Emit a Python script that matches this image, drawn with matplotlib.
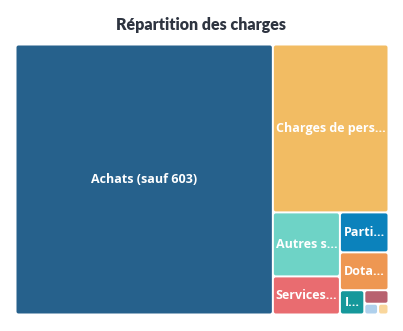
import matplotlib
matplotlib.use("Agg")
import matplotlib.pyplot as plt
from matplotlib.patches import FancyBboxPatch

labels = ["Achats (sauf 603)", "Charges de personnel", "Autres services extérieurs",
          "Services extérieurs", "Participation des salariés", "Dotations aux amortissements",
          "Impôts et taxes", "Charges financières", "Charges exceptionnelles", "Autres charges"]
values = [680, 190, 42, 25, 19, 18, 5.8, 3.2, 1.45, 1.1]
colors = ["#26618C", "#F2BC63", "#6ED3C6", "#E96C70", "#0B82BC", "#EE9752",
          "#15989B", "#B8616F", "#AFD0EC", "#F9D69C"]


def layoutrow(sizes, x, y, dx, dy):
    width = sum(sizes) / dy
    rects = []
    for s in sizes:
        rects.append((x, y, width, s / width))
        y += s / width
    return rects


def layoutcol(sizes, x, y, dx, dy):
    height = sum(sizes) / dx
    rects = []
    for s in sizes:
        rects.append((x, y, s / height, height))
        x += s / height
    return rects


def layout(sizes, x, y, dx, dy):
    if dx >= dy:
        return layoutrow(sizes, x, y, dx, dy)
    return layoutcol(sizes, x, y, dx, dy)


def leftover(sizes, x, y, dx, dy):
    covered = sum(sizes)
    if dx >= dy:
        width = covered / dy
        return x + width, y, dx - width, dy
    height = covered / dx
    return x, y + height, dx, dy - height


def worst_ratio(sizes, x, y, dx, dy):
    return max(max(r[2] / r[3], r[3] / r[2]) for r in layout(sizes, x, y, dx, dy))


def squarify(sizes, x, y, dx, dy):
    sizes = list(sizes)
    if len(sizes) == 0:
        return []
    if len(sizes) == 1:
        return layout(sizes, x, y, dx, dy)
    i = 1
    while i < len(sizes) and worst_ratio(sizes[:i], x, y, dx, dy) >= worst_ratio(sizes[:i + 1], x, y, dx, dy):
        i += 1
    current = sizes[:i]
    remaining = sizes[i:]
    lx, ly, ldx, ldy = leftover(current, x, y, dx, dy)
    return layout(current, x, y, dx, dy) + squarify(remaining, lx, ly, ldx, ldy)


W, H = 373.0, 270.0
total = sum(values)
norm = [v * W * H / total for v in values]

fig = plt.figure(figsize=(4.03, 3.31), dpi=100)
ax = fig.add_axes([15.5 / 403, 16.5 / 331, W / 403, H / 331])
ax.set_xlim(0, W)
ax.set_ylim(H, 0)
ax.axis("off")

rects = squarify(norm, 0, 0, W, H)
gap = 1.0
fig.canvas.draw()
renderer = fig.canvas.get_renderer()
font = dict(family=["Open Sans", "DejaVu Sans"], weight="bold", size=9.0, color="white")

for (x, y, w, h), lab, c in zip(rects, labels, colors):
    p = FancyBboxPatch((x + gap, y + gap), w - 2 * gap, h - 2 * gap,
                       boxstyle="round,pad=0,rounding_size=2",
                       facecolor=c, edgecolor="none")
    ax.add_patch(p)
    if w < 20 or h < 18:
        continue
    t = ax.text(x + w / 2, y + h / 2, lab, ha="center", va="center", **font)
    maxw = w - 3
    full = lab
    n = len(full)
    while t.get_window_extent(renderer).width > maxw and n > 1:
        n -= 1
        t.set_text(full[:n].rstrip() + "...")

fig.text(0.5, 1 - 25 / 331, "Répartition des charges", ha="center", va="center",
         fontsize=11.5, fontweight="heavy", color="#2E3440", family=["Lato", "DejaVu Sans"])

fig.savefig("out.png", dpi=100, facecolor="white")
